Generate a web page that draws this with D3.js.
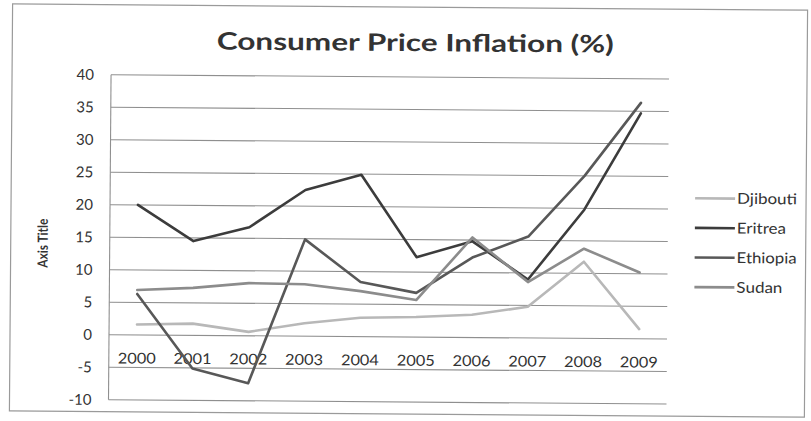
<!DOCTYPE html>
<html>
<head>
<meta charset="utf-8">
<script src="https://cdn.jsdelivr.net/npm/d3@7"></script>
<style>
  html, body { margin: 0; padding: 0; background: #ffffff; }
  svg { display: block; }
  text { font-family: Lato, "Open Sans", sans-serif; }
</style>
</head>
<body>
<svg id="chart" width="811" height="421"></svg>
<script>
// Consumer price inflation (%), 2000-2009
const years = ["2000", "2001", "2002", "2003", "2004", "2005", "2006", "2007", "2008", "2009"];
const djibouti = [1.6, 1.8, 0.6, 2.0, 2.9, 3.1, 3.5, 4.8, 11.8, 1.5];
const eritrea  = [20.0, 14.5, 16.7, 22.5, 24.9, 12.3, 14.8, 9.0, 19.8, 34.7];
const ethiopia = [6.3, -5.1, -7.3, 14.9, 8.4, 6.8, 12.3, 15.6, 25.0, 36.3];
const sudan    = [6.9, 7.3, 8.1, 8.0, 7.0, 5.7, 15.4, 8.6, 13.8, 10.2];
const yTicks   = [-10, -5, 0, 5, 10, 15, 20, 25, 30, 35, 40];

const seriesNames  = ["Djibouti", "Eritrea", "Ethiopia", "Sudan"];
const seriesValues = [djibouti, eritrea, ethiopia, sudan];
const seriesColors = ["#b8b8b8", "#3c3c3c", "#585858", "#8c8c8c"];

const svg = d3.select("#chart");
const root = svg.append("g").attr("transform", "rotate(0.45 405 210)");

// outer chart frame
root.append("rect")
  .attr("x", 11).attr("y", 7).attr("width", 795).attr("height", 407)
  .attr("fill", "#ffffff").attr("stroke", "#9a9a9a").attr("stroke-width", 1.2);

const plot = { left: 110, right: 668, top: 77, bottom: 402 };

const x = d3.scaleBand().domain(years).range([plot.left, plot.right]);
const y = d3.scaleLinear().domain([-10, 40]).range([plot.bottom, plot.top]);

// horizontal gridlines
root.append("g").selectAll("line").data(yTicks).join("line")
  .attr("x1", plot.left).attr("x2", plot.right)
  .attr("y1", d => y(d)).attr("y2", d => y(d))
  .attr("stroke", "#8f8f8f").attr("stroke-width", 1.1);

// vertical axis line
root.append("line")
  .attr("x1", plot.left).attr("x2", plot.left)
  .attr("y1", y(40)).attr("y2", y(-10))
  .attr("stroke", "#8f8f8f").attr("stroke-width", 1.1);

// value axis labels (plain hyphen for negatives)
const yAxis = d3.axisLeft(y).tickValues(yTicks).tickSize(0).tickPadding(17)
  .tickFormat(d => String(d));
const yg = root.append("g").attr("transform", `translate(${plot.left},0)`).call(yAxis);
yg.select(".domain").remove();
yg.selectAll("text")
  .attr("font-family", "Lato, sans-serif").attr("font-size", 15).attr("fill", "#333333");

// category labels, sitting below the zero line
const xAxis = d3.axisBottom(x).tickSize(0).tickPadding(18);
const xg = root.append("g").attr("transform", `translate(0,${y(0)})`).call(xAxis);
xg.select(".domain").remove();
xg.selectAll("text")
  .attr("font-family", "Lato, sans-serif").attr("font-size", 15).attr("fill", "#333333")
  .attr("textLength", 38).attr("lengthAdjust", "spacingAndGlyphs");

// series lines
const line = d3.line()
  .x((d, i) => x(years[i]) + x.bandwidth() / 2)
  .y(d => y(d));

seriesValues.forEach((vals, k) => {
  root.append("path")
    .datum(vals)
    .attr("d", line)
    .attr("fill", "none")
    .attr("stroke", seriesColors[k])
    .attr("stroke-width", 2.6)
    .attr("stroke-linejoin", "round")
    .attr("stroke-linecap", "round");
});

// title
root.append("text")
  .attr("x", 414).attr("y", 51)
  .attr("text-anchor", "middle")
  .attr("font-size", 24).attr("font-weight", "bold").attr("fill", "#333333")
  .attr("textLength", 397).attr("lengthAdjust", "spacingAndGlyphs")
  .text("Consumer Price Inflation (%)");

// axis title
root.append("text")
  .attr("transform", "translate(48,246) rotate(-90)")
  .attr("text-anchor", "middle")
  .attr("font-size", 14).attr("font-weight", "bold").attr("fill", "#333333")
  .attr("textLength", 49).attr("lengthAdjust", "spacingAndGlyphs")
  .text("Axis Title");

// legend
const legendWidths = [60, 49, 60, 46];
const legend = root.append("g").attr("transform", "translate(695,196)");
const items = legend.selectAll("g").data(seriesNames).join("g")
  .attr("transform", (d, i) => `translate(0,${i * 29.6})`);
items.append("line")
  .attr("x1", 0).attr("x2", 40).attr("y1", 0).attr("y2", 0)
  .attr("stroke", (d, i) => seriesColors[i]).attr("stroke-width", 2.6);
items.append("text")
  .attr("x", 42).attr("y", 0).attr("dy", "0.35em")
  .attr("font-size", 15).attr("fill", "#333333")
  .attr("textLength", (d, i) => legendWidths[i]).attr("lengthAdjust", "spacingAndGlyphs")
  .text(d => d);
</script>
</body>
</html>
